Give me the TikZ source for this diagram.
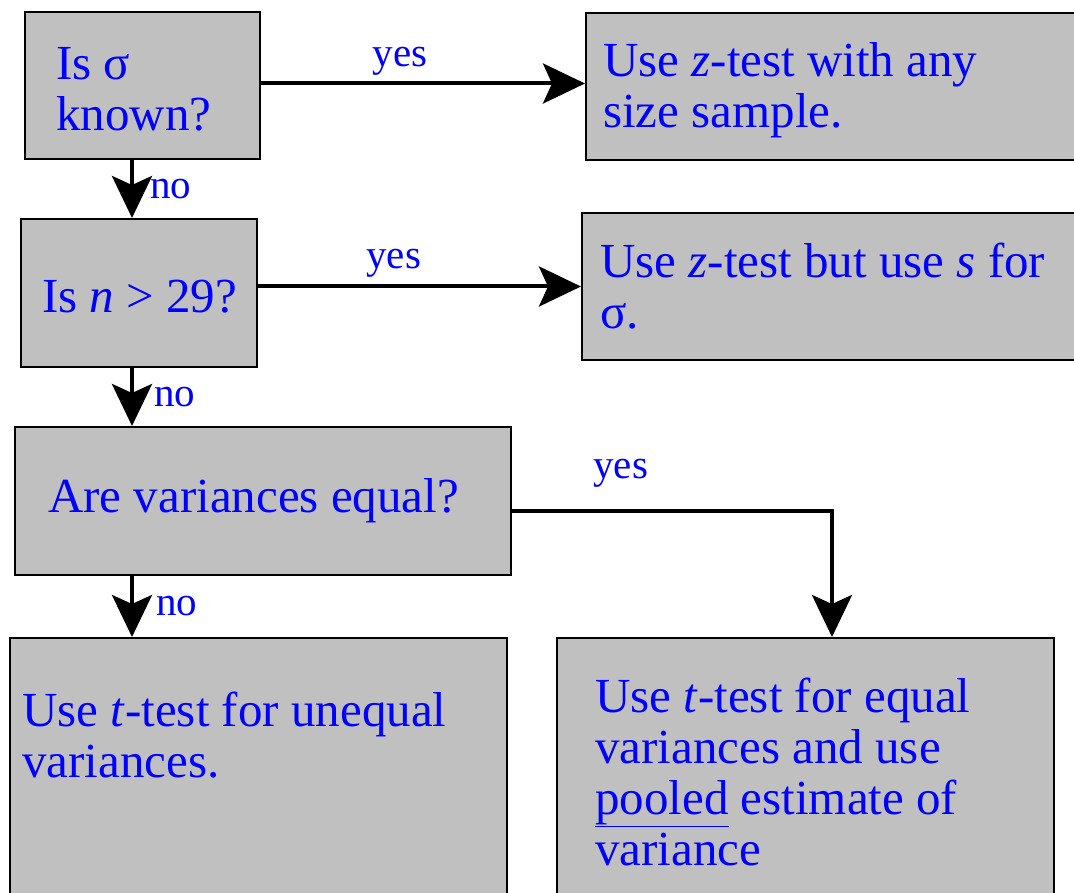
\documentclass[tikz,border=0pt]{standalone}
\usepackage{fontspec}
\setmainfont{Liberation Serif}
\usetikzlibrary{arrows.meta}
\definecolor{boxgray}{RGB}{192,192,192}

\begin{document}
\begin{tikzpicture}[x=1pt,y=-1pt,
    box/.style={draw=black, line width=2pt, fill=boxgray, inner sep=0pt, anchor=north west},
    txt/.style={text=blue, font=\fontsize{49}{51}\selectfont, align=left, anchor=north west, inner sep=0pt},
    lbl/.style={text=blue, font=\fontsize{41}{44}\selectfont, inner sep=2pt},
    arr/.style={line width=4pt, -{Stealth[length=42pt,width=40pt,inset=9pt]}}]
    \useasboundingbox (0,0) rectangle (1074,893);

    % boxes
    \node[box, minimum width=235pt, minimum height=147pt] (qsigma) at (24,11) {};
    \node[box, minimum width=510pt, minimum height=147pt] (zany) at (585,12) {};
    \node[box, minimum width=236pt, minimum height=148pt] (qn) at (20,218) {};
    \node[box, minimum width=510pt, minimum height=147pt] (zs) at (581,212) {};
    \node[box, minimum width=496pt, minimum height=148pt] (qvar) at (14,426) {};
    \node[box, minimum width=497pt, minimum height=300pt] (tuneq) at (9,637) {};
    \node[box, minimum width=497pt, minimum height=300pt] (tpool) at (556,637) {};

    % texts
    \node[txt] (qsigmatxt) at (56,47) {Is σ\\known?};
    \node[txt] (zanytxt) at (603,42) {Use \textit{z}-test with any\\size sample.};
    \node[txt] (qntxt) at (42,280) {Is \textit{n} > 29?};
    \node[txt] (zstxt) at (600,243) {Use \textit{z}-test but use \textit{s} for\\σ.};
    \node[txt] (qvartxt) at (48,478) {Are variances equal?};
    \node[txt] (tuneqtxt) at (22,692) {Use \textit{t}-test for unequal\\variances.};
    \node[txt] (tpooltxt) at (595,678) {Use \textit{t}-test for equal\\variances and use\\\underline{pooled} estimate of\\variance};

    % arrows
    \coordinate (spine) at (132,0);
    \coordinate (drop) at (832,0);
    \draw[arr] ([yshift=2pt]qsigma.east) -- ([yshift=2pt]qsigma.east -| zany.west)
        node[lbl, pos=0.43, above=4pt] {yes};
    \draw[arr] (qsigma.south -| spine) -- (qn.north -| spine)
        node[lbl, midway, right=14pt] {no};
    \draw[arr] (qn.east |- zs.west) -- (zs.west)
        node[lbl, pos=0.42, above=5pt] {yes};
    \draw[arr] (qn.south -| spine) -- (qvar.north -| spine)
        node[lbl, midway, right=18pt] {no};
    \draw[arr] ([yshift=-10pt]qvar.east) -| (drop |- tpool.north)
        node[lbl, pos=0.17, above=20pt] {yes};
    \draw[arr] (qvar.south -| spine) -- (tuneq.north -| spine)
        node[lbl, midway, right=20pt] {no};
\end{tikzpicture}
\end{document}
